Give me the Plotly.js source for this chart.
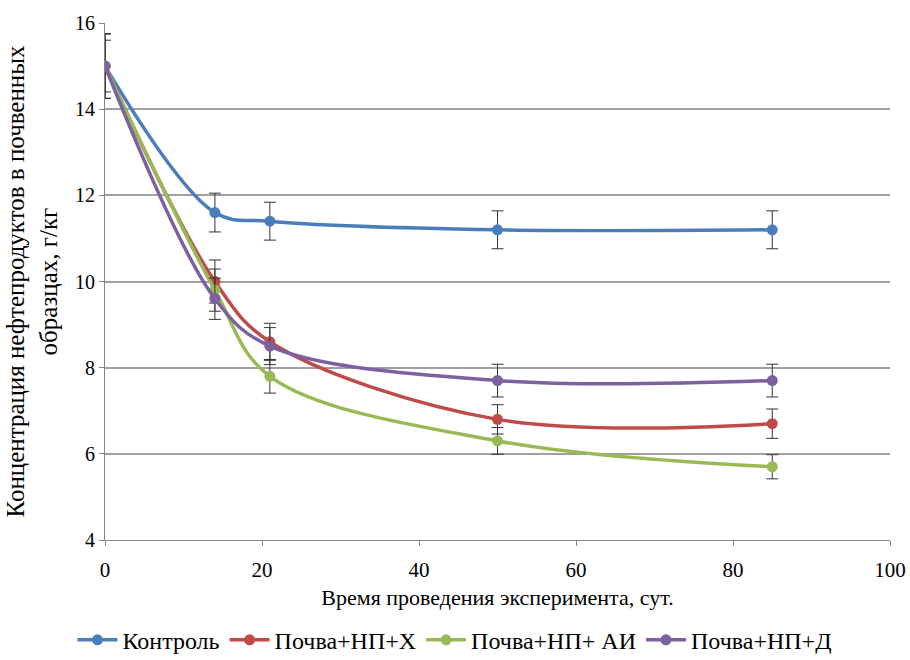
<!DOCTYPE html>
<html><head><meta charset="utf-8">
<script src="https://cdn.plot.ly/plotly-3.0.1.min.js"></script>
<style>body{margin:0;background:#fff}#c{width:910px;height:660px}</style>
</head><body><div id="c"></div>
<script>
const days = [0, 14, 21, 50, 85];
const seriesNames = ['Контроль', 'Почва+НП+Х', 'Почва+НП+ АИ', 'Почва+НП+Д'];
const control = [15, 11.6, 11.4, 11.2, 11.2];
const soilX = [15, 10.0, 8.6, 6.8, 6.7];
const soilAI = [15, 9.8, 7.8, 6.3, 5.7];
const soilD = [15, 9.6, 8.5, 7.7, 7.7];
const errControl = [0.6, 0.45, 0.44, 0.44, 0.44];
const errX = [0.75, 0.5, 0.43, 0.34, 0.34];
const errAI = [0.75, 0.49, 0.39, 0.31, 0.28];
const errD = [0.75, 0.48, 0.43, 0.38, 0.38];
const colors = ['#4A7EBB', '#BE4B48', '#98B954', '#7D60A0'];

const ys = [control, soilX, soilAI, soilD];
const errs = [errControl, errX, errAI, errD];
const traces = ys.map((y, i) => ({
  x: days, y: y, name: seriesNames[i], type: 'scatter', mode: 'lines+markers',
  line: {color: colors[i], width: 3.5, shape: 'spline', smoothing: 1},
  marker: {color: colors[i], size: 11},
  error_y: {type: 'data', array: errs[i], visible: true, color: '#333', thickness: 1, width: 6}
}));
const font = 'Liberation Serif';
const layout = {
  width: 910, height: 660,
  margin: {l: 105, r: 20, t: 23, b: 120},
  paper_bgcolor: '#fff', plot_bgcolor: '#fff',
  font: {family: font, size: 20, color: '#000'},
  showlegend: true,
  legend: {orientation: 'h', x: 0.5, xanchor: 'center', xref: 'container', yref: 'container', y: 0.03, yanchor: 'middle',
    font: {family: font, size: 24, color: '#000'}, itemwidth: 40, tracegroupgap: 0},
  xaxis: {range: [0, 100], dtick: 20, showgrid: false, zeroline: false, showline: true, linecolor: '#868686', linewidth: 1,
    ticks: 'outside', ticklen: 5, tickcolor: '#868686', tickfont: {family: font, size: 21}, ticklabelstandoff: 6,
    automargin: 'bottom',
    title: {text: 'Время проведения эксперимента, сут.', font: {family: font, size: 22}, standoff: 8}},
  yaxis: {range: [4, 16], dtick: 2, showgrid: true, gridcolor: '#A0A0A0', gridwidth: 1.5, zeroline: false, showline: true, linecolor: '#868686', linewidth: 1,
    ticks: 'outside', ticklen: 5, tickcolor: '#868686', tickfont: {family: font, size: 20},
    title: {text: 'Концентрация нефтепродуктов в почвенных<br>образцах, г/кг', font: {family: font, size: 25}, standoff: 10}}
};
Plotly.newPlot('c', traces, layout, {displayModeBar: false, responsive: false});
</script></body></html>
